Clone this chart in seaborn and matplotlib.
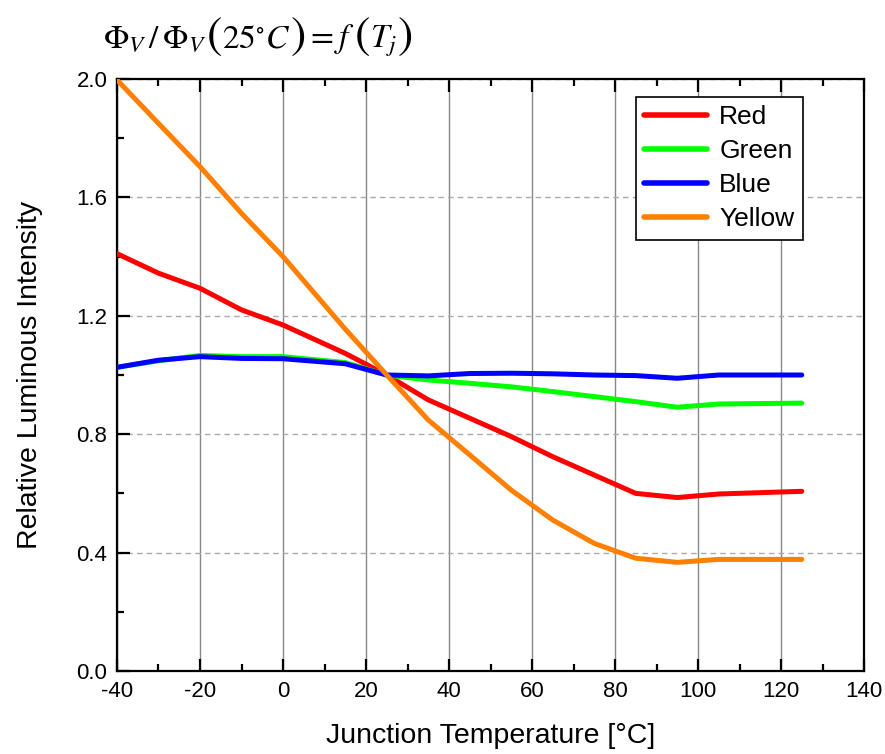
import pandas as pd
import matplotlib.pyplot as plt
from matplotlib.ticker import MultipleLocator
from matplotlib.offsetbox import TextArea, HPacker, AnchoredOffsetbox
import seaborn as sns

# temperature points (°C)
temps = [-40, -30, -20, -10, 0, 15, 25, 35, 45, 55, 65, 75, 85, 95, 105, 125]

# relative luminous intensity per colour
red = [1.41, 1.344, 1.293, 1.22, 1.169, 1.073, 1.0, 0.916, 0.854, 0.792,
       0.724, 0.662, 0.60, 0.586, 0.598, 0.607]
green = [1.026, 1.048, 1.066, 1.062, 1.062, 1.042, 1.0, 0.983, 0.972, 0.96,
         0.944, 0.927, 0.91, 0.891, 0.902, 0.905]
blue = [1.026, 1.05, 1.062, 1.056, 1.055, 1.038, 1.0, 0.997, 1.005, 1.006,
        1.004, 1.0, 0.998, 0.989, 1.0, 1.0]
yellow = [1.997, 1.85, 1.704, 1.546, 1.40, 1.155, 1.0, 0.848, 0.73, 0.611,
          0.51, 0.431, 0.381, 0.367, 0.377, 0.377]

series_names = ['Red', 'Green', 'Blue', 'Yellow']
series_colors = ['#ff0000', '#00ff00', '#0000ff', '#ff8000']

sns.set_theme(style="ticks")
plt.rcParams['font.family'] = ['Liberation Sans', 'DejaVu Sans']
plt.rcParams['mathtext.fontset'] = 'stix'
plt.rcParams['axes.unicode_minus'] = False
plt.rcParams['text.color'] = 'black'
plt.rcParams['axes.labelcolor'] = 'black'
plt.rcParams['xtick.color'] = 'black'
plt.rcParams['ytick.color'] = 'black'

rows = []
for name, vals in zip(series_names, [red, green, blue, yellow]):
    for t, v in zip(temps, vals):
        rows.append({'temp': t, 'value': v, 'series': name})
df = pd.DataFrame(rows)

fig = plt.figure(figsize=(8.85, 7.54), dpi=100)
ax = fig.add_axes([0.1322, 0.1101, 0.8441, 0.7851])

sns.lineplot(data=df, x='temp', y='value', hue='series',
             hue_order=series_names,
             palette=dict(zip(series_names, series_colors)),
             linewidth=3.6, ax=ax, zorder=3)

ax.set_xlim(-40, 140)
ax.set_ylim(0, 2.0)
ax.xaxis.set_major_locator(MultipleLocator(20))
ax.xaxis.set_minor_locator(MultipleLocator(10))
ax.yaxis.set_major_locator(MultipleLocator(0.4))
ax.yaxis.set_minor_locator(MultipleLocator(0.2))
ax.yaxis.set_major_formatter(plt.FormatStrFormatter('%.1f'))

ax.grid(axis='x', which='major', color='#888888', linewidth=1.0, linestyle='-')
ax.grid(axis='y', which='major', color='#aaaaaa', linewidth=1.0, linestyle=(0, (4, 3)))
ax.set_axisbelow(True)

for s in ax.spines.values():
    s.set_linewidth(1.6)
    s.set_color('black')

ax.tick_params(which='both', direction='in', top=True, right=False,
               labelsize=16, width=1.6, colors='black', pad=7)
ax.tick_params(which='major', length=9)
ax.tick_params(which='minor', length=5)

ax.set_xlabel('Junction Temperature [°C]', fontsize=20.5, labelpad=15)
ax.set_ylabel('Relative Luminous Intensity', fontsize=20.5, labelpad=24)

leg = ax.legend(loc='upper right', bbox_to_anchor=(0.918, 0.97),
                fontsize=19, frameon=True, fancybox=False,
                edgecolor='black', framealpha=1, borderpad=0.32,
                labelspacing=0.38, handlelength=2.4, handletextpad=0.45,
                borderaxespad=0)
leg.get_frame().set_linewidth(1.2)
for line in leg.get_lines():
    line.set_linewidth(4)

# formula title, built from pieces so the brackets can be taller
small = dict(fontsize=24, color='black')
big = dict(fontsize=33, color='black')
parts = [
    TextArea(r'$\Phi_V\,/\,\Phi_V$', textprops=small),
    TextArea(r'$($', textprops=big),
    TextArea(r'$25^{\circ}C$', textprops=small),
    TextArea(r'$)$', textprops=big),
    TextArea(r'$=f$', textprops=small),
    TextArea(r'$($', textprops=big),
    TextArea(r'$T_j$', textprops=small),
    TextArea(r'$)$', textprops=big),
]
title_box = HPacker(children=parts, align='baseline', pad=0, sep=0)
anchored = AnchoredOffsetbox(loc='center left', child=title_box, pad=0,
                             frameon=False, bbox_to_anchor=(0.116, 0.952),
                             bbox_transform=fig.transFigure, borderpad=0)
fig.add_artist(anchored)

fig.savefig('out.png', dpi=100)
